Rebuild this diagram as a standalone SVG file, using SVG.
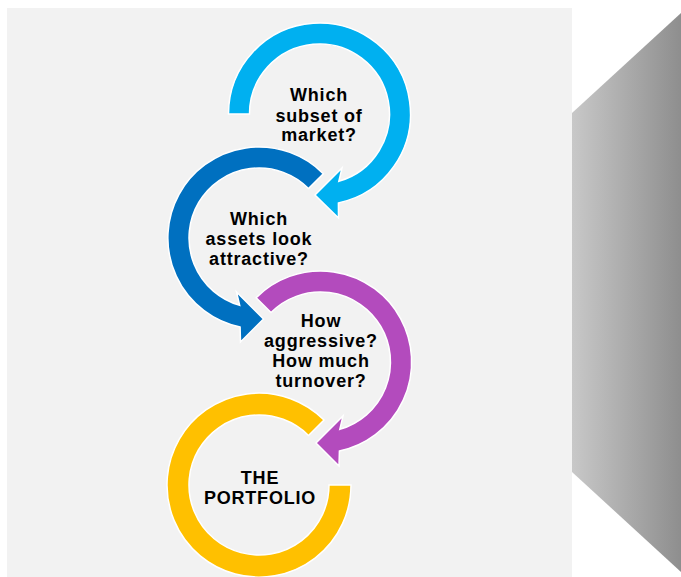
<svg xmlns="http://www.w3.org/2000/svg" width="681" height="577" viewBox="0 0 681 577">
<defs>
<linearGradient id="wall" x1="0" y1="0" x2="1" y2="0">
<stop offset="0" stop-color="#C8C8C8"/>
<stop offset="1" stop-color="#8E8E8E"/>
</linearGradient>
<style>
.ring{stroke:#FFFFFF;stroke-width:1.5;stroke-linejoin:miter}
.lbl{font-family:"Liberation Sans",Arial,sans-serif;font-weight:bold;font-size:18px;letter-spacing:0.8px;fill:#000000;text-anchor:middle}
</style>
</defs>
<rect width="681" height="577" fill="#FFFFFF"/>
<rect id="panel" x="7" y="8" width="565" height="569" fill="#F2F2F2"/>
<polygon id="wall-shape" points="572,113 681,13 681,572 572,472" fill="url(#wall)"/>

<g id="node-subset">
<path class="ring" fill="#00B0F0" d="M228.5,114 A91,91 0 1 1 338.4,203 L338.5,218 L315,195 L342,168 L338.8,181.3 A70,70 0 1 0 249.5,114 Z"/>
<text class="lbl" x="319" y="101">Which</text>
<text class="lbl" x="319" y="122">subset of</text>
<text class="lbl" x="319" y="141">market?</text>
</g>

<g id="node-assets">
<path class="ring" fill="#0070C0" d="M323.3,173.7 A91,91 0 1 0 240.1,327 L240.5,342 L263.5,319 L236.5,292 L239.7,305.3 A70,70 0 1 1 308.5,188.5 Z"/>
<text class="lbl" x="259" y="225">Which</text>
<text class="lbl" x="259" y="245">assets look</text>
<text class="lbl" x="259" y="265">attractive?</text>
</g>

<g id="node-aggressive">
<path class="ring" fill="#B34BBD" d="M256.2,297.7 A91,91 0 1 1 339.4,451 L339,466 L316,443 L343,416 L339.8,429.3 A70,70 0 1 0 271,312.5 Z"/>
<text class="lbl" x="321" y="327">How</text>
<text class="lbl" x="321" y="347">aggressive?</text>
<text class="lbl" x="321" y="367">How much</text>
<text class="lbl" x="321" y="387">turnover?</text>
</g>

<g id="node-portfolio">
<path class="ring" fill="#FFC000" d="M351,485 A92,92 0 1 1 324,420 L308.5,435.5 A70,70 0 1 0 329,485 Z"/>
<text class="lbl" x="260" y="484">THE</text>
<text class="lbl" x="260" y="504">PORTFOLIO</text>
</g>

<g id="connectors"></g>
</svg>
